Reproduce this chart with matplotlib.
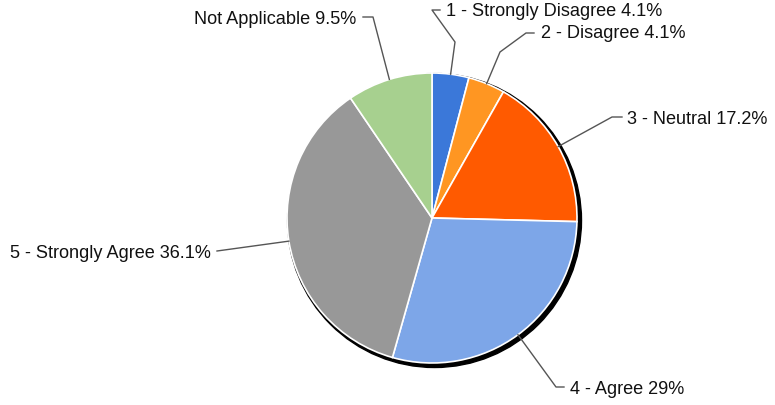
import numpy as np
import matplotlib
matplotlib.use("Agg")
import matplotlib.pyplot as plt
from matplotlib.patches import Circle

categories = ["1 - Strongly Disagree", "2 - Disagree", "3 - Neutral",
              "4 - Agree", "5 - Strongly Agree", "Not Applicable"]
values = [4.1, 4.1, 17.2, 29, 36.1, 9.5]
value_labels = ["4.1%", "4.1%", "17.2%", "29%", "36.1%", "9.5%"]
colors = ["#3b78d9", "#ff9622", "#ff5a00", "#7da6e8", "#989898", "#a7d08f"]

# layout (pixel coords, y down): elbow points, line end, text anchor
elbows = [[(455, 42), (432, 10)], [(500, 52), (526, 33)], [(612, 117)],
          [(556, 387)], [], [(373, 17)]]
line_ends = [(440, 10), (534, 33), (622, 117), (564, 387), (217, 251), (363, 17)]
text_pos = [(446, 12), (541, 33), (627, 119), (570, 389), (211, 253), (356, 19)]
text_ha = ["left", "left", "left", "left", "right", "right"]

W, H = 775, 405
fig = plt.figure(figsize=(W / 100, H / 100), dpi=100)
ax = fig.add_axes([0, 0, 1, 1])

cx, cy, r = 432, 218, 145
# shadow
ax.add_patch(Circle((cx + 2.5, cy + 2.5), r + 2, color="black", zorder=1))

# y axis is inverted (pixel coords), so start at -90 and go "counterclockwise"
# in data space, which appears clockwise from the top on screen
wedges, _ = ax.pie(values, colors=colors, startangle=-90, counterclock=True,
                   center=(cx, cy), radius=r, frame=True,
                   wedgeprops=dict(edgecolor="white", linewidth=1.2, zorder=2))
ax.set_xlim(0, W)
ax.set_ylim(H, 0)
ax.axis("off")

for w, cat, vl, elb, le, tp, ha in zip(wedges, categories, value_labels,
                                        elbows, line_ends, text_pos, text_ha):
    ang = np.deg2rad((w.theta1 + w.theta2) / 2)
    ex = w.center[0] + r * np.cos(ang)
    ey = w.center[1] + r * np.sin(ang)
    pts = [(ex, ey)] + elb + [le]
    xs, ys = zip(*pts)
    ax.plot(xs, ys, color="#555555", lw=1, zorder=3)
    ax.text(tp[0], tp[1], f"{cat} {vl}", ha=ha, va="center",
            fontsize=13.1, color="#111111", family=["Liberation Sans", "DejaVu Sans"])

fig.savefig("out.png", dpi=100)
